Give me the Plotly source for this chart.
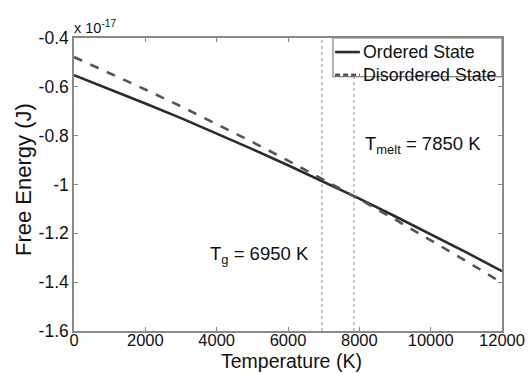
import plotly.graph_objects as go

temperature = [0, 1000, 2000, 3000, 4000, 5000, 6000, 7000, 8000, 9000, 10000, 11000, 12000]
ordered = [-0.552, -0.609, -0.668, -0.728, -0.791, -0.855, -0.921, -0.989, -1.058, -1.130, -1.203, -1.278, -1.355]
disordered = [-0.478, -0.543, -0.611, -0.680, -0.752, -0.826, -0.902, -0.980, -1.060, -1.143, -1.227, -1.314, -1.403]
series_names = ["Ordered State", "Disordered State"]
t_g = 6950
t_melt = 7850
x_ticks = [0, 2000, 4000, 6000, 8000, 10000, 12000]
x_ticklabels = ["0", "2000", "4000", "6000", "8000", "10000", "12000"]
y_ticks = [-1.6, -1.4, -1.2, -1.0, -0.8, -0.6, -0.4]
y_ticklabels = ["-1.6", "-1.4", "-1.2", "-1", "-0.8", "-0.6", "-0.4"]
x_title = "Temperature (K)"
y_title = "Free Energy (J)"

FONT = "Liberation Sans, Arial, sans-serif"
TXT = "#111111"
C_ORD = "#2a2a2a"
C_DIS = "#555555"

W, H = 529, 373
ML, MR, MT, MB = 74, 27, 38, 42
PW, PH = W - ML - MR, H - MT - MB

fig = go.Figure()
for tv in [t_g, t_melt]:
    fig.add_shape(type="line", x0=tv, x1=tv, y0=-1.6, y1=-0.4, xref="x", yref="y",
                  line=dict(color="#a0a0a0", width=1.2, dash="dot"), layer="below")

fig.add_trace(go.Scatter(x=temperature, y=ordered, mode="lines", name=series_names[0],
                         line=dict(color=C_ORD, width=2.6)))
fig.add_trace(go.Scatter(x=temperature, y=disordered, mode="lines", name=series_names[1],
                         line=dict(color=C_DIS, width=2.6, dash="dash")))

fig.update_layout(
    width=W, height=H,
    margin=dict(l=ML, r=MR, t=MT, b=MB),
    paper_bgcolor="white", plot_bgcolor="white",
    font=dict(family=FONT, color=TXT, size=17),
    showlegend=False,
    xaxis=dict(range=[0, 12000], tickvals=x_ticks, ticktext=x_ticklabels, ticks="inside",
               ticklen=4, tickcolor="#888", showline=True, linecolor="#888", linewidth=1.5,
               mirror="ticks", showgrid=False, zeroline=False, automargin=False,
               ticklabelstandoff=-7, tickfont=dict(size=16.5, color=TXT)),
    yaxis=dict(range=[-1.6, -0.4], tickvals=y_ticks, ticktext=y_ticklabels, ticks="inside",
               ticklen=4, tickcolor="#888", showline=True, linecolor="#888", linewidth=1.5,
               mirror="ticks", showgrid=False, zeroline=False, automargin=False,
               tickfont=dict(size=17.5, color=TXT)),
)

# axis titles as annotations for exact placement
fig.add_annotation(text=x_title, x=(291 - ML) / PW, y=-(361 - (MT + PH)) / PH,
                   xref="paper", yref="paper", xanchor="center", yanchor="middle",
                   showarrow=False, font=dict(size=19.5, color=TXT), borderpad=0)
fig.add_annotation(text=y_title, x=-(ML - 23) / PW, y=(MT + PH - 180) / PH,
                   xref="paper", yref="paper", xanchor="center", yanchor="middle",
                   textangle=-90, showarrow=False, font=dict(size=22, color=TXT))

# manual legend (boxed, top-right)
fig.add_shape(type="rect", x0=0.605, x1=1.0, y0=0.868, y1=1.0, xref="paper", yref="paper",
              fillcolor="white", line=dict(color="#808080", width=1.2), layer="above")
legend_rows = [0.952, 0.874]
legend_styles = [dict(color=C_ORD, width=2.6), dict(color=C_DIS, width=2.6, dash="5px,3px")]
for name, yy, st in zip(series_names, legend_rows, legend_styles):
    fig.add_shape(type="line", x0=0.610, x1=0.668, y0=yy, y1=yy, xref="paper", yref="paper",
                  line=st, layer="above")
    fig.add_annotation(text=name, x=0.670, y=yy, xref="paper", yref="paper",
                       xanchor="left", yanchor="middle", showarrow=False,
                       font=dict(size=17.8, color=TXT))

fig.add_annotation(text="x 10<sup>-17</sup>", x=0, y=1, xref="paper", yref="paper",
                   xanchor="left", yanchor="bottom", showarrow=False,
                   font=dict(size=14.5, color=TXT), xshift=-2, yshift=0)
fig.add_annotation(text="T<sub>melt</sub> = 7850 K", x=8100, y=-0.838, xref="x", yref="y",
                   xanchor="left", yanchor="middle", showarrow=False,
                   font=dict(size=18.5, color=TXT))
fig.add_annotation(text="T<sub>g</sub> = 6950 K", x=3760, y=-1.289, xref="x", yref="y",
                   xanchor="left", yanchor="middle", showarrow=False,
                   font=dict(size=18.5, color=TXT))

fig.write_html("out.html", config={"displayModeBar": False},
               post_script="document.body.style.margin='0';document.body.style.overflow='hidden';")
